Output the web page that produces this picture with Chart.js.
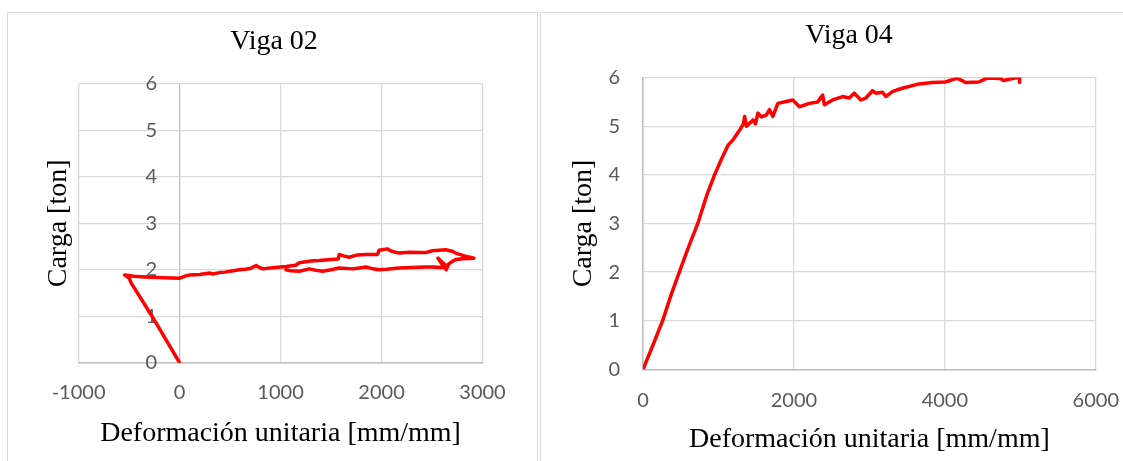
<!DOCTYPE html>
<html>
<head>
<meta charset="utf-8">
<script src="https://cdn.jsdelivr.net/npm/chart.js@4.4.1/dist/chart.umd.min.js"></script>
<style>
  html, body { margin: 0; padding: 0; background: #fff; overflow: hidden; width: 1123px; height: 461px; }
  .panel { position: absolute; box-sizing: border-box; border: 1.5px solid #d9d9d9; }
  canvas { position: absolute; top: 0; }
</style>
</head>
<body>
<div class="panel" style="left:7px; top:12px; width:531px; height:470px;"></div>
<div class="panel" style="left:540px; top:12px; width:620px; height:470px;"></div>
<canvas id="viga02" width="548" height="461" style="left:0px"></canvas>
<canvas id="viga04" width="578" height="461" style="left:560px"></canvas>
<script>
// Viga 02 - deformación vs carga
const viga02X = [0, -270, -480, -500, -545, -450, -300, -150, 0, 50, 100, 200, 296, 330, 395, 450, 500, 593, 650, 700, 758, 790, 823, 900, 1000, 1054, 1150, 1186, 1300, 1383, 1500, 1570, 1581, 1620, 1680, 1760, 1845, 1960, 1976, 2058, 2100, 2174, 2273, 2380, 2438, 2503, 2635, 2700, 2734, 2820, 2915,
  2800, 2734, 2680, 2640, 2560, 2600, 2640, 2660, 2600, 2503, 2438, 2300, 2174, 2050, 1976, 1900, 1845, 1780, 1713, 1581, 1500, 1417, 1350, 1285, 1186, 1100, 1054];
const viga02Y = [0, 0.99, 1.72, 1.82, 1.89, 1.86, 1.84, 1.83, 1.82, 1.86, 1.89, 1.90, 1.93, 1.91, 1.94, 1.95, 1.97, 2.00, 2.01, 2.03, 2.09, 2.05, 2.02, 2.04, 2.06, 2.07, 2.10, 2.15, 2.19, 2.20, 2.22, 2.23, 2.33, 2.30, 2.27, 2.32, 2.33, 2.33, 2.42, 2.45, 2.40, 2.36, 2.38, 2.37, 2.37, 2.41, 2.43, 2.40, 2.36, 2.30, 2.25,
  2.24, 2.22, 2.15, 2.08, 2.25, 2.12, 2.00, 2.10, 2.05, 2.06, 2.06, 2.05, 2.04, 2.01, 2.00, 2.03, 2.06, 2.04, 2.02, 2.04, 2.00, 1.97, 1.99, 2.02, 1.97, 1.98, 2.00];

// Viga 04
const viga04X = [0, 130, 260, 370, 481, 600, 726, 849, 948, 1039, 1127, 1193, 1281, 1330, 1347, 1370, 1391, 1457, 1490, 1523, 1567, 1633, 1677, 1721, 1787, 1897, 1985, 2073, 2205, 2315, 2381, 2403, 2513, 2645, 2733, 2799, 2887, 2953, 3041, 3085, 3173, 3217, 3305, 3393, 3437, 3657, 3833, 4009, 4163, 4274, 4449, 4559, 4735, 4779, 4955, 4990, 4990];
const viga04Y = [0, 0.49, 1.00, 1.52, 2.00, 2.50, 3.00, 3.60, 4.00, 4.32, 4.61, 4.72, 4.92, 5.05, 5.20, 5.00, 5.03, 5.13, 5.05, 5.27, 5.19, 5.23, 5.34, 5.20, 5.47, 5.51, 5.54, 5.40, 5.47, 5.50, 5.64, 5.44, 5.54, 5.61, 5.58, 5.68, 5.54, 5.58, 5.73, 5.68, 5.70, 5.61, 5.71, 5.76, 5.78, 5.87, 5.90, 5.91, 5.99, 5.90, 5.91, 5.99, 5.98, 5.94, 6.00, 6.00, 5.90];

const tickFont = { family: 'Lato', size: 20 };
const serifFont = { family: 'Liberation Serif', size: 28, weight: 'normal' };
const gridLight = '#d9d9d9';
const axisDark = '#bfbfbf';
const tickColor = '#595959';

function toPoints(xs, ys) {
  return xs.map((x, i) => ({ x: x, y: ys[i] }));
}

function makeChart(id, cfg) {
  return new Chart(document.getElementById(id), {
    type: 'scatter',
    data: {
      datasets: [{
        data: toPoints(cfg.xs, cfg.ys),
        showLine: true,
        borderColor: '#ff0000',
        borderWidth: 3.5,
        borderJoinStyle: 'round',
        borderCapStyle: 'round',
        pointRadius: 0,
        tension: 0
      }]
    },
    options: {
      responsive: false,
      animation: false,
      events: [],
      layout: { padding: 0 },
      plugins: {
        legend: { display: false },
        tooltip: { enabled: false },
        title: {
          display: true,
          text: cfg.title,
          font: serifFont,
          color: '#000',
          padding: cfg.titlePad
        }
      },
      scales: {
        x: {
          type: 'linear',
          position: 'bottom',
          min: cfg.xMin, max: cfg.xMax,
          ticks: { stepSize: cfg.xStep, font: tickFont, color: tickColor, padding: cfg.xTickPad, callback: v => String(v) },
          grid: {
            drawTicks: false,
            lineWidth: 1.3,
            color: c => (cfg.darkZero && c.tick && c.tick.value === 0) ? axisDark : gridLight
          },
          border: { color: axisDark, width: 1.5 },
          title: { display: true, text: 'Deformación unitaria [mm/mm]', font: serifFont, color: '#000', padding: { top: 0, bottom: cfg.xTitlePad } },
          afterFit: s => { s.height = cfg.xHeight; }
        },
        y: {
          type: 'linear',
          position: 'left',
          min: 0, max: 6,
          ticks: { stepSize: 1, font: tickFont, color: tickColor, padding: cfg.yTickPad, mirror: cfg.yMirror, callback: v => String(v) },
          grid: { drawTicks: false, lineWidth: 1.3, color: gridLight },
          border: { display: cfg.yBorder, color: axisDark, width: 1.5 },
          title: { display: true, text: 'Carga [ton]', font: serifFont, color: '#000', padding: { top: cfg.yTitlePad, bottom: 0 } },
          afterFit: s => { s.width = cfg.yWidth; }
        },
        yr: {
          type: 'linear',
          axis: 'y',
          position: 'right',
          ticks: { display: false },
          grid: { display: false },
          border: { display: false },
          afterFit: s => { s.width = cfg.rightWidth; }
        }
      }
    }
  });
}

// en Viga 02 las etiquetas del eje Y quedan junto a x = 0 (dentro del área)
makeChart('viga02', {
  xs: viga02X, ys: viga02Y, title: 'Viga 02',
  titlePad: { top: 24.9, bottom: 25.5 },
  xMin: -1000, xMax: 3000, xStep: 1000, xTickPad: 18, xTitlePad: 10.9, xHeight: 98.3,
  darkZero: true, yBorder: false, yMirror: true, yTickPad: 67, yTitlePad: 42, yWidth: 78.6, rightWidth: 65.5
});

makeChart('viga04', {
  xs: viga04X, ys: viga04Y, title: 'Viga 04',
  titlePad: { top: 19.1, bottom: 24.9 },
  xMin: 0, xMax: 6000, xStep: 2000, xTickPad: 19, xTitlePad: 4.6, xHeight: 91.7,
  darkZero: false, yBorder: true, yMirror: false, yTickPad: 23, yTitlePad: 7.2, yWidth: 83, rightWidth: 41.5
});
</script>
</body>
</html>
